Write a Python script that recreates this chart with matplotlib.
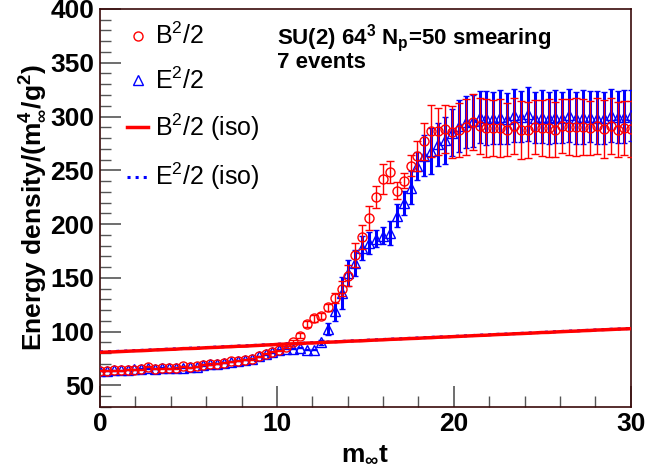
import numpy as np
import matplotlib
matplotlib.use("Agg")
import matplotlib.pyplot as plt
from matplotlib.lines import Line2D

plt.rcParams['font.family'] = ['Liberation Sans', 'DejaVu Sans']
plt.rcParams['mathtext.default'] = 'regular'

# time grid (m_inf t)
t = np.arange(78) * 0.39

B = [63.7, 63.7, 64.0, 64.3, 64.7, 64.7, 65.0, 67.5, 65.5, 65.9,
     65.9, 66.2, 67.7, 67.0, 67.7, 69.3, 69.9, 70.2, 70.9, 72.4,
     73.0, 74.0, 74.6, 77.0, 79.5, 81.5, 82.5, 85.4, 90.7, 96.3,
     107.1, 112.4, 114.6, 122.6, 131.3, 140.0, 152.0, 171.0, 188.0, 205.4,
     225.3, 242.3, 248.5, 231.2, 240.5, 254.4, 263.5, 277.0, 286.3, 286.3,
     288.5, 285.4, 287.3, 290.4, 294.7, 291.0, 289.1, 289.1, 289.1, 287.9,
     291.0, 287.3, 287.3, 290.4, 289.1, 289.1, 287.9, 291.0, 290.4, 290.4,
     290.4, 289.5, 291.0, 288.5, 291.0, 287.9, 289.5, 288.5]
B_err = [0.5] * 27 + [1.0, 1.5, 2.0, 2.5, 3.0, 3.0, 3.5, 5.0, 7.0, 10.0,
                      11.0, 11.0, 11.0, 10.0, 14.0, 10.0, 7.5, 7.0, 10.0, 14.0,
                      17.0, 24.0, 22.0, 22.0, 24.0, 25.0, 26.0, 26.0, 26.0, 27.0,
                      26.0, 27.0, 25.0, 26.0, 27.0, 26.0, 25.0, 26.0, 27.0, 26.0,
                      25.0, 26.0, 27.0, 26.0, 25.0, 26.0, 27.0, 26.0, 26.0, 25.0,
                      26.0]

E = [63.5, 63.5, 64.0, 64.0, 64.5, 65.0, 65.5, 66.0, 65.5, 66.5,
     66.0, 66.5, 66.5, 67.0, 67.5, 69.0, 69.5, 70.0, 71.0, 72.0,
     73.0, 74.0, 75.0, 77.0, 79.0, 81.0, 83.0, 84.0, 84.0, 85.0,
     83.0, 83.0, 90.0, 102.5, 119.0, 136.0, 154.6, 163.5, 178.0, 182.5,
     186.5, 189.3, 191.8, 207.9, 219.7, 234.0, 254.0, 263.5, 268.0, 274.0,
     278.0, 285.0, 291.0, 294.7, 295.6, 299.4, 298.8, 298.5, 299.5, 298.0,
     301.0, 300.0, 302.0, 299.0, 300.0, 298.5, 300.0, 299.0, 301.0, 298.5,
     299.5, 300.0, 299.0, 298.5, 301.0, 299.5, 300.0, 301.0]
E_err = [0.5] * 32 + [2.0, 6.0, 9.0, 15.0, 12.0, 12.0, 11.0, 10.0, 8.0, 8.0,
                      11.0, 11.0, 11.0, 15.0, 13.0, 19.0, 21.0, 20.0, 22.0, 22.0,
                      24.0, 24.0, 24.0, 24.0, 25.0, 24.0, 25.0, 24.0, 25.0, 24.0,
                      25.0, 24.0, 25.0, 24.0, 25.0, 24.0, 25.0, 24.0, 25.0, 24.0,
                      25.0, 24.0, 25.0, 24.0, 25.0, 24.0]

iso_B = [80.8, 81.0, 81.2, 81.5, 81.8, 82.1, 82.3, 82.6, 83.0, 83.2,
         83.5, 83.7, 84.2, 84.3, 84.5, 84.9, 85.2, 85.4, 85.8, 86.0,
         86.4, 86.5, 86.9, 87.2, 87.6, 87.8, 88.3, 88.4, 88.7, 88.8,
         89.4, 89.5, 89.9, 90.2, 90.4, 90.7, 91.1, 91.3, 91.5, 91.9,
         92.2, 92.4, 92.8, 93.0, 93.3, 93.6, 93.8, 94.2, 94.4, 94.8,
         95.0, 95.3, 95.6, 95.9, 96.2, 96.5, 96.7, 97.1, 97.4, 97.6,
         98.0, 98.2, 98.5, 98.8, 99.2, 99.3, 99.7, 100.0, 100.3, 100.5,
         100.9, 101.1, 101.5, 101.7, 102.0, 102.3, 102.5, 102.8]
iso_E = [81.2, 81.3, 81.5, 81.8, 82.0, 82.4, 82.6, 82.9, 83.2, 83.4,
         83.8, 84.0, 84.3, 84.6, 84.8, 85.1, 85.4, 85.7, 86.0, 86.3,
         86.6, 86.8, 87.1, 87.4, 87.8, 88.0, 88.4, 88.7, 88.9, 89.1,
         89.5, 89.8, 90.1, 90.4, 90.6, 90.9, 91.3, 91.5, 91.8, 92.1,
         92.4, 92.7, 93.0, 93.2, 93.5, 93.8, 94.1, 94.4, 94.7, 95.0,
         95.2, 95.5, 95.8, 96.1, 96.4, 96.7, 97.0, 97.3, 97.6, 97.8,
         98.1, 98.4, 98.7, 99.0, 99.3, 99.6, 99.9, 100.2, 100.5, 100.7,
         101.0, 101.3, 101.6, 101.9, 102.2, 102.4, 102.7, 103.0]

fig = plt.figure(figsize=(6.45, 4.71), dpi=100)
ax = fig.add_axes([0.155, 0.136, 0.823, 0.845])

ax.errorbar(t, E, yerr=E_err, fmt='^', ms=6.5, mfc='none', mec='blue', mew=1.0,
            ecolor='blue', elinewidth=2.2, capsize=2.5, capthick=2.2, zorder=3)
ax.errorbar(t, B, yerr=B_err, fmt='o', ms=6.5, mfc='none', mec='red', mew=1.0,
            ecolor='red', elinewidth=1.0, capsize=3, capthick=1.0, zorder=4)
ax.plot(t, iso_E, ':', color='blue', lw=2.2, zorder=5)
ax.plot(t, iso_B, '-', color='red', lw=2.5, zorder=6)

ax.set_xlim(0, 30)
ax.set_ylim(30, 400)
ax.set_xticks([0, 10, 20, 30])
ax.set_xticks(np.arange(0, 31, 2), minor=True)
ax.set_yticks([50, 100, 150, 200, 250, 300, 350, 400])
ax.set_yticks(np.arange(30, 401, 10), minor=True)
ax.tick_params(which='both', direction='in', top=False, right=False, color='#555555')
ax.tick_params(which='major', length=15, width=1.2, labelsize=19, pad=4)
ax.tick_params(which='minor', length=8, width=1.0)
for lab in ax.get_xticklabels() + ax.get_yticklabels():
    lab.set_fontweight('bold')
for sp in ax.spines.values():
    sp.set_color('#3a0a0a')
    sp.set_linewidth(1.2)

ax.set_xlabel(r'm$_{\infty}$t', fontsize=19, fontweight='bold', labelpad=4)
ax.set_ylabel(r'Energy density/(m$_{\infty}^{4}$/g$^{2}$)', fontsize=19,
              fontweight='bold', labelpad=2)

handles = [
    Line2D([], [], ls='none', marker='o', ms=6.5, mfc='none', mec='red'),
    Line2D([], [], ls='none', marker='^', ms=6.5, mfc='none', mec='blue'),
    Line2D([], [], ls='-', color='red', lw=2.5),
    Line2D([], [], ls=':', color='blue', lw=2.2),
]
labels = ['B$^2$/2', 'E$^2$/2', 'B$^2$/2 (iso)', 'E$^2$/2 (iso)']
ax.legend(handles, labels, loc='upper left', bbox_to_anchor=(0.051, 0.965),
          frameon=False, fontsize=18, handlelength=0.85, handletextpad=0.25,
          labelspacing=0.72, borderpad=0, borderaxespad=0)

fig.text(277 / 645, 1 - 22 / 471, 'SU(2) 64$^3$ N$_p$=50 smearing\n7 events',
         fontsize=16, fontweight='bold', va='top', ha='left', linespacing=0.9)

fig.savefig('out.png', dpi=100)
